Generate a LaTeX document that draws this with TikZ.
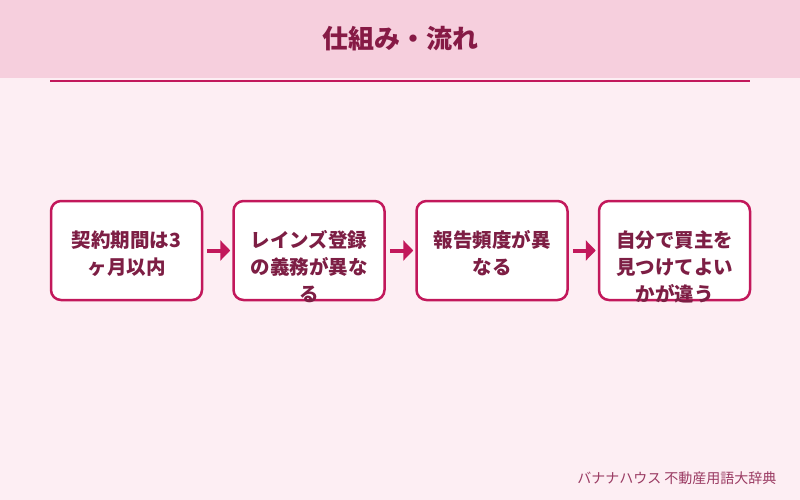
\documentclass[tikz,border=0pt]{standalone}
\usepackage{fontspec}
\setmainfont{Noto Sans CJK JP}
\usetikzlibrary{arrows.meta}
\definecolor{bgc}{HTML}{FDEEF3}
\definecolor{headc}{HTML}{F6CFDD}
\definecolor{accent}{HTML}{C2185B}
\definecolor{titlec}{HTML}{861A45}
\definecolor{textc}{HTML}{7D1E44}
\definecolor{footc}{HTML}{9A3A62}
\tikzset{
  stepbox/.style={draw=accent, line width=2.5pt, fill=white, rounded corners=10pt,
    minimum width=151pt, minimum height=99pt, inner sep=0pt},
  steptext/.style={text=textc, font=\bfseries\fontsize{19.5}{27}\selectfont, align=center,
    anchor=north, inner sep=0pt},
  flow/.style={draw=accent, line width=4pt, -{Triangle[length=10pt,width=20pt]},
    shorten <=4pt, shorten >=2pt}
}
\begin{document}
\begin{tikzpicture}[x=1pt,y=-1pt]
\useasboundingbox (0,0) rectangle (800,500);
\fill[bgc] (0,0) rectangle (800,500);
\fill[headc] (0,0) rectangle (800,78);
\node[text=titlec, font=\bfseries\fontsize{26}{30}\selectfont] (title) at (400,39) {仕組み・流れ};
\coordinate (ls) at (50,81);
\coordinate (le) at (750,81);
\draw[accent, line width=2pt] (ls) -- (le);
\node[stepbox] (b1) at (126.5,250.5) {};
\node[stepbox] (b2) at (309,250.5) {};
\node[stepbox] (b3) at (492,250.5) {};
\node[stepbox] (b4) at (674.5,250.5) {};
\draw[flow] (b1.east) -- (b2.west);
\draw[flow] (b2.east) -- (b3.west);
\draw[flow] (b3.east) -- (b4.west);
\node[steptext] (t1) at (126.5,230.5) {契約期間は3\\ヶ月以内};
\node[steptext] (t2) at (309,230.5) {レインズ登録\\の義務が異な\\る};
\node[steptext] (t3) at (492,230.5) {報告頻度が異\\なる};
\node[steptext] (t4) at (674.5,230.5) {自分で買主を\\見つけてよい\\かが違う};
\node[text=footc, font=\fontsize{14}{16}\selectfont, anchor=east] (foot) at (780,478) {バナナハウス 不動産用語大辞典};
\end{tikzpicture}
\end{document}
